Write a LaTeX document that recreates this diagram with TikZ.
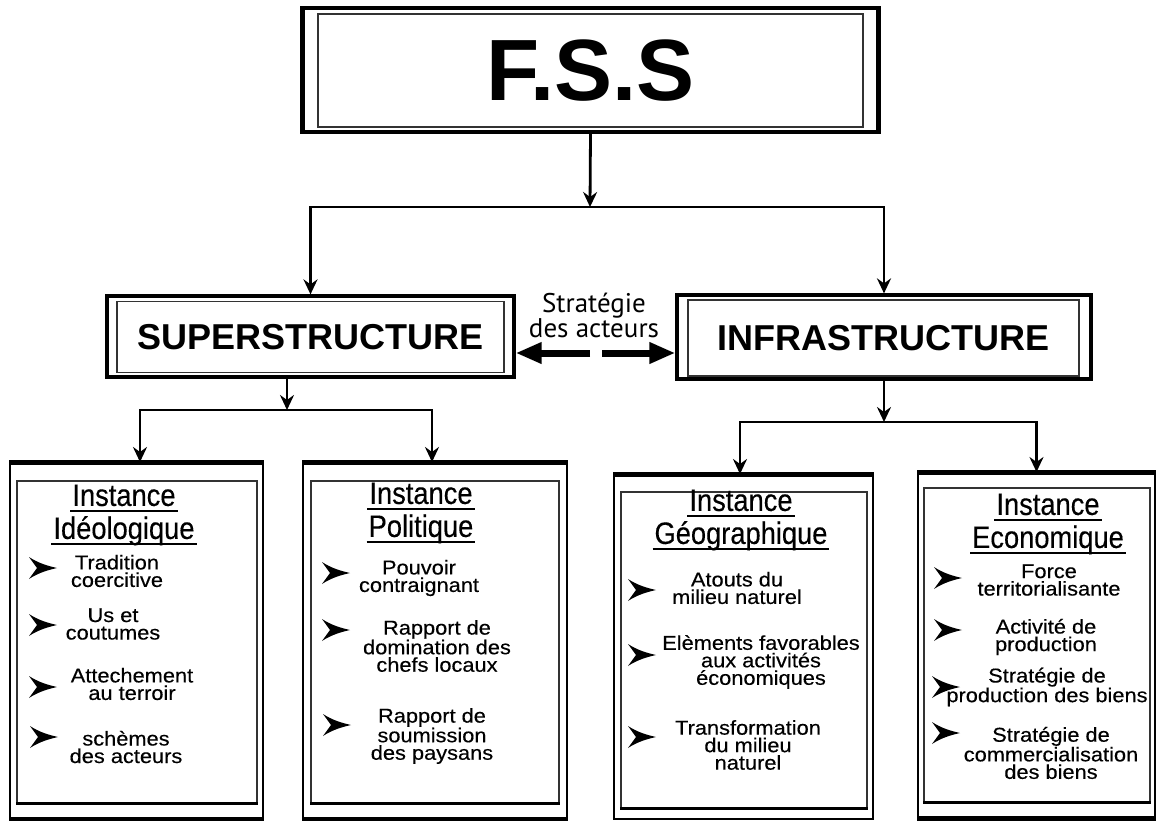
\documentclass[tikz,border=0pt]{standalone}
\usepackage{fontspec}
\setmainfont{Liberation Sans}
\newfontfamily\itemfont[FakeStretch=1.09,FakeBold=0.35]{Liberation Sans}
\newfontfamily\headfont[FakeStretch=0.88,FakeBold=0.3]{Liberation Sans}
\newfontfamily\stratfont{PT Sans}
\usetikzlibrary{arrows.meta}
\newcommand\ulx[1]{\setbox0\hbox{#1}\rlap{\kern-2pt\rule[-6pt]{\dimexpr\wd0+4pt\relax}{2pt}}\box0}
\tikzset{
  dblouter/.style={draw, line width=3.2pt, inner sep=0pt},
  dblinner/.style={draw=black!80, line width=1.5pt, inner sep=0pt},
  boxouter/.style={draw, line width=2pt, inner sep=0pt},
  boxinner/.style={draw=black!80, line width=1.6pt, inner sep=0pt},
  conn/.style={line width=2.8pt, line join=miter, arrows={-Stealth[length=15pt,width=14pt,inset=5pt]}},
  conn2/.style={line width=2.8pt, line join=miter, arrows={Stealth[length=15pt,width=14pt,inset=5pt]-Stealth[length=15pt,width=14pt,inset=5pt]}},
  biarrow/.style={line width=7pt, -{Triangle[length=26pt,width=20pt]}},
  thickedge/.style={line width=5pt},
  item/.style={align=center, font=\itemfont\fontsize{20}{17.5}\selectfont, inner sep=0pt},
  head/.style={align=center, font=\headfont\fontsize{31}{33}\selectfont, inner sep=0pt},
  bullet/.pic={\fill (0,-11) .. controls (9,-5) and (19,-2) .. (28,0) .. controls (19,2) and (9,5) .. (0,11) -- (8,0) -- cycle;}
}
\begin{document}
\begin{tikzpicture}[x=1pt,y=-1pt]
\useasboundingbox (0,0) rectangle (1157,821);

% F.S.S
\node[dblouter, minimum width=575pt, minimum height=124pt] (fss) at (590.5,70) {};
\node[dblinner, minimum width=545pt, minimum height=113pt, font=\fontsize{87}{90}\selectfont\bfseries] (fssin) at (590.5,70.5) {F.S.S};
\draw[line width=5pt] ([xshift=1pt]fss.north west) -- ([xshift=1pt]fss.south west);
\draw[line width=5pt] ([xshift=-1pt]fss.north east) -- ([xshift=-1pt]fss.south east);

% SUPERSTRUCTURE / INFRASTRUCTURE
\node[dblouter, minimum width=407pt, minimum height=81pt] (super) at (310.5,336.5) {};
\node[dblinner, minimum width=387pt, minimum height=71pt, font=\fontsize{36}{40}\selectfont\bfseries] (superin) at (310.5,337) {SUPERSTRUCTURE};
\node[dblouter, minimum width=414pt, minimum height=84pt] (infra) at (884,337) {};
\node[dblinner, minimum width=391pt, minimum height=76pt, font=\fontsize{36}{40}\selectfont\bfseries] (infrain) at (883.5,338) {INFRASTRUCTURE};

% Strategie des acteurs
\node[align=center, inner sep=0pt, font=\stratfont\fontsize{27}{25}\selectfont] (strat) at (594,315) {Stratégie\\des acteurs};
\coordinate (ml) at (590,353);
\coordinate (mr) at (602,353);
\draw[biarrow] (ml) -- (super.east |- ml);
\draw[biarrow] (mr) -- (infra.west |- mr);

% bottom boxes
\node[boxouter, minimum width=253pt, minimum height=355pt] (b1) at (136.5,640.5) {};
\node[boxinner, minimum width=240pt, minimum height=322pt] (b1in) at (137,642) {};
\node[boxouter, minimum width=264pt, minimum height=355pt] (b2) at (435,640.5) {};
\node[boxinner, minimum width=248pt, minimum height=322pt] (b2in) at (435,642) {};
\node[boxouter, minimum width=259pt, minimum height=344pt] (b3) at (743.5,647) {};
\node[boxinner, minimum width=246pt, minimum height=316pt] (b3in) at (744,650) {};
\node[boxouter, minimum width=237pt, minimum height=344pt] (b4) at (1036.5,645) {};
\node[boxinner, minimum width=226pt, minimum height=314pt] (b4in) at (1037,645) {};
\foreach \b in {b1,b2,b3,b4}{
  \draw[thickedge] (\b.north west) -- (\b.north east);
  \draw[line width=3pt] (\b in.south west) -- (\b in.south east);
}
\foreach \b in {b1,b2,b4}{
  \draw[thickedge] (\b.south west) -- (\b.south east);
}

% connectors
\coordinate (j1) at (590,207);
\draw[conn] (fss.south) -- (j1);
\draw[conn2] (super.north) -- (super.north |- j1) -- (infra.north |- j1) -- (infra.north);
\coordinate (j2) at (287,410);
\draw[conn] (super.south -| j2) -- (j2);
\draw[conn2] ([xshift=3.5pt]b1.north) -- ([xshift=3.5pt]b1.north |- j2) -- ([xshift=-3pt]b2.north |- j2) -- ([xshift=-3pt]b2.north);
\coordinate (j3) at (884,422);
\draw[conn] (infra.south) -- (j3);
\draw[conn2] ([xshift=-3.5pt]b3.north) -- ([xshift=-3.5pt]b3.north |- j3) -- (b4.north |- j3) -- (b4.north);

% headings
\node[head] (h1) at (124,515) {\ulx{Instance}\\\ulx{Idéologique}};
\node[head] (h2) at (421,513) {\ulx{Instance}\\\ulx{Politique}};
\node[head] (h3) at (741,520) {\ulx{Instance}\\\ulx{Géographique}};
\node[head] (h4) at (1048,524) {\ulx{Instance}\\\ulx{Economique}};

% items box 1
\pic at (29,568) {bullet};
\node[item] (i11) at (117,571) {Tradition\\coercitive};
\pic at (29,625) {bullet};
\node[item] (i12) at (113,624) {Us et\\coutumes};
\pic at (29,687) {bullet};
\node[item] (i13) at (132,684) {Attechement\\au terroir};
\pic at (30,737) {bullet};
\node[item] (i14) at (126,747) {schèmes\\des acteurs};

% items box 2
\pic at (322,573) {bullet};
\node[item] (i21) at (419,578) {Pouvoir\\contraignant};
\pic at (322,630) {bullet};
\node[item] (i22) at (437,646) {Rapport de\\domination des\\chefs locaux};
\pic at (323,725) {bullet};
\node[item] (i23) at (432,736) {Rapport de\\soumission\\des paysans};

% items box 3
\pic at (628,590) {bullet};
\node[item] (i31) at (737,588) {Atouts du\\milieu naturel};
\pic at (628,655) {bullet};
\node[item] (i32) at (761,662) {Elèments favorables\\aux activités\\économiques};
\pic at (628,737) {bullet};
\node[item] (i33) at (748,745) {Transformation\\du milieu\\naturel};

% items box 4
\pic at (934,578) {bullet};
\node[item] (i41) at (1049,580) {Force\\territorialisante};
\pic at (934,630) {bullet};
\node[item] (i42) at (1046,637) {Activité de\\production};
\pic at (932,687) {bullet};
\node[item] (i43) at (1047,687) {Stratégie de\\production des biens};
\pic at (932,733) {bullet};
\node[item] (i44) at (1051,753) {Stratégie de\\commercialisation\\des biens};
\end{tikzpicture}
\end{document}
